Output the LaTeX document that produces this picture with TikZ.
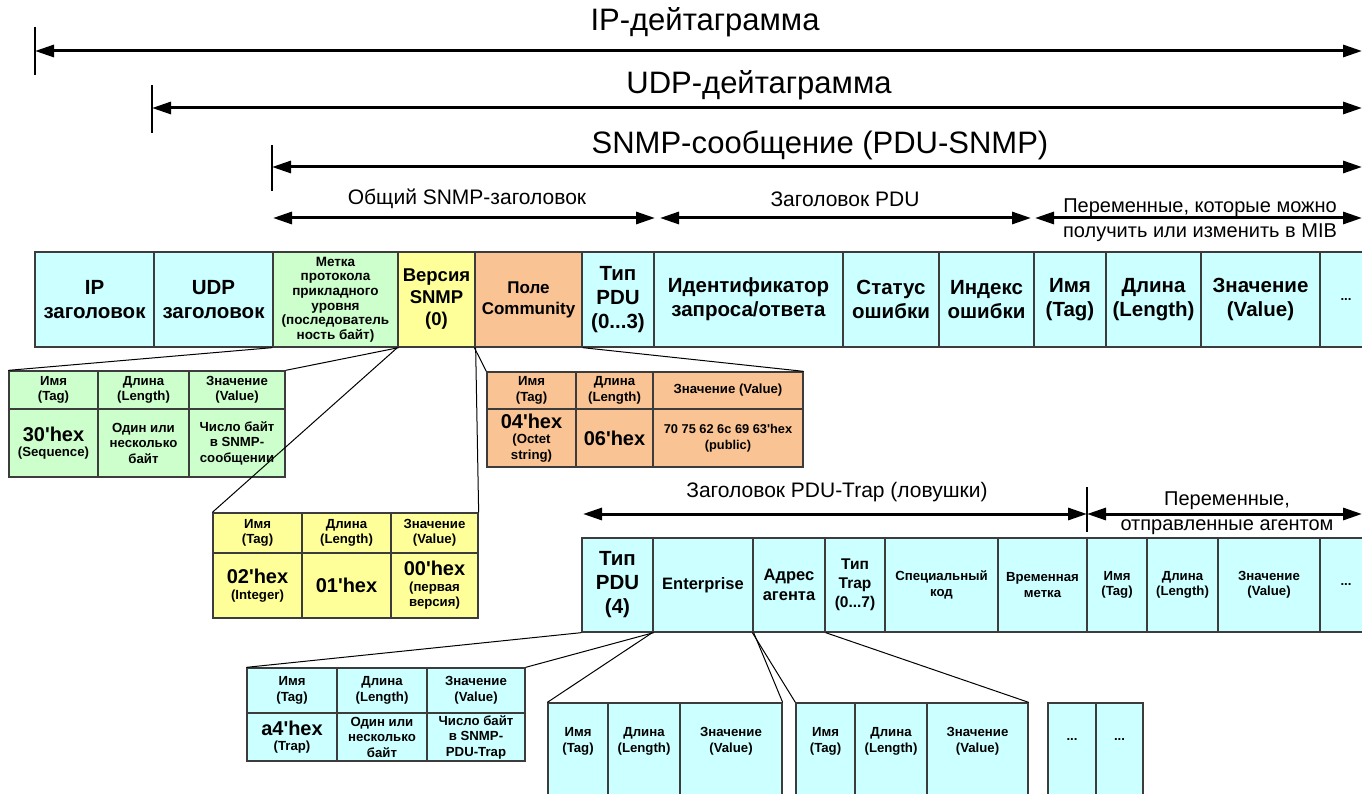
\documentclass[tikz,border=0pt]{standalone}
\usepackage{fontspec}
\setmainfont{Liberation Sans}
\usetikzlibrary{arrows.meta}
\definecolor{cya}{RGB}{204,255,255}
\definecolor{grn}{RGB}{204,255,204}
\definecolor{yel}{RGB}{255,255,153}
\definecolor{org}{RGB}{250,195,147}
\definecolor{bord}{RGB}{60,60,60}
\newcommand\fs[2]{\fontsize{#1}{#2}\selectfont}
\newcommand\hx{\textquotesingle hex}
\newcommand\cel[7]{\node[cellbase,#6,minimum width={(#4)-(#2)},minimum height={(#5)-(#3)}] (#1) at ({((#2)+(#4))/2},{((#3)+(#5))/2}) {#7};}
\tikzset{
  cellbase/.style={draw=bord, line width=1.3pt, inner sep=1pt, align=center},
  cc/.style={fill=cya}, cg/.style={fill=grn}, cy/.style={fill=yel}, co/.style={fill=org},
  big/.style={font=\fs{20.5}{24}\bfseries},
  sm/.style={font=\fs{13.2}{15.5}\bfseries},
  hexf/.style={font=\fs{20}{22}\bfseries},
  dbl/.style={line width=3pt, {Triangle[length=19pt,width=12pt]}-{Triangle[length=19pt,width=12pt]}},
  barline/.style={line width=2.5pt},
  toplab/.style={font=\fs{31}{36}},
  midlab/.style={font=\fs{21}{24}},
  varlab/.style={font=\fs{20}{24}},
  conn/.style={line width=1pt},
  low/.style={text depth=23pt}
}
\begin{document}
\begin{tikzpicture}[x=1pt,y=-1pt]
\clip (0,0) rectangle (1362,794);
\fill[white] (0,0) rectangle (1362,794);

% top span arrows
\node[toplab] (lip) at (705,22) {IP-дейтаграмма};
\coordinate (ipA) at (35,27); \coordinate (ipB) at (35,75);
\coordinate (ipL) at (35,51); \coordinate (ipR) at (1362,51);
\draw[barline] (ipA) -- (ipB);
\draw[dbl] (ipL) -- (ipR);

\node[toplab] (ludp) at (759,85) {UDP-дейтаграмма};
\coordinate (udA) at (152,85); \coordinate (udB) at (152,133);
\coordinate (udL) at (152,108); \coordinate (udR) at (1362,108);
\draw[barline] (udA) -- (udB);
\draw[dbl] (udL) -- (udR);

\node[toplab] (lsnmp) at (820,145) {SNMP-сообщение (PDU-SNMP)};
\coordinate (snA) at (272,145); \coordinate (snB) at (272,191);
\coordinate (snL) at (272,167); \coordinate (snR) at (1362,167);
\draw[barline] (snA) -- (snB);
\draw[dbl] (snL) -- (snR);

% row 4 arrows
\coordinate (h1L) at (273,218); \coordinate (h1R) at (655,218);
\coordinate (h2L) at (660,218); \coordinate (h2R) at (1031,218);
\coordinate (h3L) at (1035,218); \coordinate (h3R) at (1362,218);
\draw[dbl] (h1L) -- (h1R);
\draw[dbl] (h2L) -- (h2R);
\draw[dbl] (h3L) -- (h3R);
\node[midlab] (lgen) at (467,199) {Общий SNMP-заголовок};
\node[midlab] (lpdu) at (845,199) {Заголовок PDU};
\node[varlab] (lvar1) at (1200,208) {Переменные, которые можно};
\node[varlab] (lvar2) at (1200,233) {получить или изменить в MIB};

% main row
\cel{ip}{35}{252}{154}{347}{cc,big}{IP\\заголовок}
\cel{udp}{154}{252}{273}{347}{cc,big}{UDP\\заголовок}
\cel{metka}{273}{252}{398}{347}{cg,font=\fs{13.5}{14.6}\bfseries}{Метка\\протокола\\прикладного\\уровня\\(последователь\\ность байт)}
\cel{ver}{398}{252}{475}{347}{cy,font=\fs{18.5}{22}\bfseries}{Версия\\SNMP\\(0)}
\cel{comm}{475}{252}{582}{347}{co,font=\fs{17}{21}\bfseries}{Поле\\Community}
\cel{tpdu}{582}{252}{654}{347}{cc,big}{Тип\\PDU\\(0...3)}
\cel{ident}{654}{252}{843}{347}{cc,big}{Идентификатор\\запроса/ответа}
\cel{stat}{843}{252}{939}{347}{cc,big}{Статус\\ошибки}
\cel{indx}{939}{252}{1034}{347}{cc,big}{Индекс\\ошибки}
\cel{mname}{1034}{252}{1106}{347}{cc,big}{Имя\\(Tag)}
\cel{mlen}{1106}{252}{1201}{347}{cc,big}{Длина\\(Length)}
\cel{mval}{1201}{252}{1320}{347}{cc,big}{Значение\\(Value)}
\cel{mdots}{1320}{252}{1372}{347}{cc,sm}{...}

% green table
\cel{g1}{9}{371}{98}{409}{cg,sm}{Имя\\(Tag)}
\cel{g2}{98}{371}{189}{409}{cg,sm}{Длина\\(Length)}
\cel{g3}{189}{371}{285}{409}{cg,sm}{Значение\\(Value)}
\cel{g4}{9}{409}{98}{477}{cg,sm}{{\fs{20}{22}30\hx}\\(Sequence)}
\cel{g5}{98}{409}{189}{477}{cg,sm}{Один или\\несколько\\байт}
\cel{g6}{189}{409}{285}{477}{cg,sm}{Число байт\\в SNMP-\\сообщении}
\draw[conn] (metka.south west) -- (g1.north west);
\draw[conn] (metka.south east) -- (g3.north east);

% yellow table
\cel{y1}{213}{513}{302}{553}{cy,sm}{Имя\\(Tag)}
\cel{y2}{302}{513}{391}{553}{cy,sm}{Длина\\(Length)}
\cel{y3}{391}{513}{478}{553}{cy,sm}{Значение\\(Value)}
\cel{y4}{213}{553}{302}{618}{cy,sm}{{\fs{20}{22}02\hx}\\(Integer)}
\cel{y5}{302}{553}{391}{618}{cy,hexf}{01\hx}
\cel{y6}{391}{553}{478}{618}{cy,sm}{{\fs{20}{22}00\hx}\\(первая\\версия)}
\draw[conn] (ver.south west) -- (y1.north west);
\draw[conn] (ver.south east) -- (y3.north east);

% orange table
\cel{o1}{487}{372}{576}{409}{co,sm}{Имя\\(Tag)}
\cel{o2}{576}{372}{653}{409}{co,sm}{Длина\\(Length)}
\cel{o3}{653}{372}{803}{409}{co,sm}{Значение (Value)}
\cel{o4}{487}{409}{576}{467}{co,sm}{{\fs{20}{22}04\hx}\\(Octet\\string)}
\cel{o5}{576}{409}{653}{467}{co,hexf}{06\hx}
\cel{o6}{653}{409}{803}{467}{co,font=\fs{12.8}{15.5}\bfseries}{70 75 62 6c 69 63\hx\\(public)}
\draw[conn] (comm.south west) -- (o1.north west);
\draw[conn] (comm.south east) -- (o3.north east);

% trap arrows
\node[midlab] (ltrap) at (837,492) {Заголовок PDU-Trap (ловушки)};
\node[varlab] (lag1) at (1227,501) {Переменные,};
\node[varlab] (lag2) at (1227,527) {отправленные агентом};
\coordinate (trA) at (1087,487); \coordinate (trB) at (1087,532);
\coordinate (t1L) at (583,514); \coordinate (t1R) at (1087,514);
\coordinate (t2R) at (1362,514);
\draw[barline] (trA) -- (trB);
\draw[dbl] (t1L) -- (t1R);
\draw[dbl] (t1R) -- (t2R);

% trap row
\cel{t4}{582}{538}{653}{632}{cc,big}{Тип\\PDU\\(4)}
\cel{ent}{653}{538}{753}{632}{cc,font=\fs{16.5}{20}\bfseries}{Enterprise}
\cel{addr}{753}{538}{825}{632}{cc,font=\fs{16.5}{20}\bfseries}{Адрес\\агента}
\cel{ttrap}{825}{538}{885}{632}{cc,font=\fs{15.5}{19}\bfseries}{Тип\\Trap\\(0...7)}
\cel{spec}{885}{538}{998}{632}{cc,sm}{Специальный\\код}
\cel{tstamp}{998}{538}{1087}{632}{cc,sm}{Временная\\метка}
\cel{tn}{1087}{538}{1147}{632}{cc,sm}{Имя\\(Tag)}
\cel{tl}{1147}{538}{1218}{632}{cc,sm}{Длина\\(Length)}
\cel{tv}{1218}{538}{1320}{632}{cc,sm}{Значение\\(Value)}
\cel{td}{1320}{538}{1372}{632}{cc,sm}{...}

% trap PDU table
\cel{p1}{247}{668}{337}{713}{cc,sm}{Имя\\(Tag)}
\cel{p2}{337}{668}{427}{713}{cc,sm}{Длина\\(Length)}
\cel{p3}{427}{668}{525}{713}{cc,sm}{Значение\\(Value)}
\cel{p4}{247}{713}{337}{761}{cc,sm}{{\fs{20}{22}a4\hx}\\(Trap)}
\cel{p5}{337}{713}{427}{761}{cc,sm}{Один или\\несколько\\байт}
\cel{p6}{427}{713}{525}{761}{cc,sm}{Число байт\\в SNMP-\\PDU-Trap}
\draw[conn] (t4.south west) -- (p1.north west);
\draw[conn] (t4.south east) -- (p3.north east);

% enterprise table
\cel{e1}{548}{703}{608}{800}{cc,sm,low}{Имя\\(Tag)}
\cel{e2}{608}{703}{680}{800}{cc,sm,low}{Длина\\(Length)}
\cel{e3}{680}{703}{782}{800}{cc,sm,low}{Значение\\(Value)}
\draw[conn] (ent.south west) -- (e1.north west);
\draw[conn] (ent.south east) -- (e3.north east);

% agent address table
\cel{a1}{796}{703}{855}{800}{cc,sm,low}{Имя\\(Tag)}
\cel{a2}{855}{703}{927}{800}{cc,sm,low}{Длина\\(Length)}
\cel{a3}{927}{703}{1028}{800}{cc,sm,low}{Значение\\(Value)}
\draw[conn] (addr.south west) -- (a1.north west);
\draw[conn] (addr.south east) -- (a3.north east);

% dots
\cel{d1}{1048}{703}{1096}{800}{cc,sm,low}{...}
\cel{d2}{1096}{703}{1143}{800}{cc,sm,low}{...}
\end{tikzpicture}
\end{document}
